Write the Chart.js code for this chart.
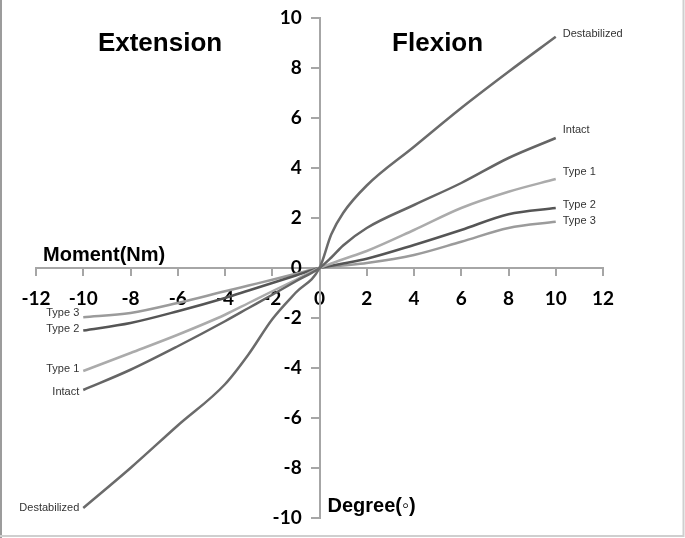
<!DOCTYPE html>
<html>
<head>
<meta charset="utf-8">
<script src="https://cdn.jsdelivr.net/npm/chart.js@4/dist/chart.umd.min.js"></script>
<style>
  html, body { margin: 0; padding: 0; background: #fff; }
  canvas { display: block; }
</style>
</head>
<body>
<canvas id="momentChart" width="685" height="538"></canvas>
<script>
// 각도 (deg)
const degrees = [-10, -8, -6, -4, -3, -2, -1, 0, 0.5, 1, 2, 4, 6, 8, 10];

// 모멘트 (Nm)
const destabilized = [-9.6, -8.0, -6.3, -4.65, -3.45, -2.05, -0.98, 0, 1.35, 2.2, 3.3, 4.85, 6.4, 7.85, 9.25];
const intact       = [-4.88, -4.07, -3.13, -2.13, -1.6, -1.07, -0.53, 0, 0.42, 0.9, 1.6, 2.52, 3.4, 4.4, 5.2];
const type1        = [-4.12, -3.4, -2.67, -1.87, -1.4, -0.93, -0.47, 0, 0.18, 0.35, 0.68, 1.52, 2.4, 3.05, 3.56];
const type2        = [-2.5, -2.2, -1.73, -1.2, -0.9, -0.6, -0.3, 0, 0.09, 0.18, 0.37, 0.92, 1.52, 2.15, 2.4];
const type3        = [-1.97, -1.8, -1.4, -0.93, -0.7, -0.47, -0.23, 0, 0.05, 0.1, 0.2, 0.52, 1.05, 1.6, 1.85];

const seriesNames  = ['Destabilized', 'Intact', 'Type 1', 'Type 2', 'Type 3'];
const seriesValues = [destabilized, intact, type1, type2, type3];
const seriesColors = ['#6b6b6b', '#656565', '#ababab', '#555555', '#9b9b9b'];

// 라벨 오프셋 [왼쪽 dy, 오른쪽 dy]
const labelOffsets = [[0, -3], [2, -8], [-2, -7], [-2, -3], [-4, -1]];

const xTicks = [-12, -10, -8, -6, -4, -2, 0, 2, 4, 6, 8, 10, 12];
const yTicks = [-10, -8, -6, -4, -2, 0, 2, 4, 6, 8, 10];

const AXIS_COLOR = '#a6a6a6';
const TICK_FONT = { family: 'Lato, "Open Sans", sans-serif', size: 19, weight: 'bold' };

/**
 * 곡선 끝 라벨 + 제목 그리기
 */
const annotatePlugin = {
    id: 'annotate',
    afterDatasetsDraw(chart) {
        const ctx = chart.ctx;
        const xs = chart.scales.x;
        const ys = chart.scales.y;
        ctx.save();

        // 시리즈 라벨
        ctx.font = '11px "Liberation Sans", Arial, sans-serif';
        ctx.fillStyle = '#333';
        ctx.textBaseline = 'middle';
        seriesNames.forEach((name, i) => {
            const vals = seriesValues[i];
            ctx.textAlign = 'right';
            ctx.fillText(name, xs.getPixelForValue(degrees[0]) - 4, ys.getPixelForValue(vals[0]) + labelOffsets[i][0]);
            ctx.textAlign = 'left';
            ctx.fillText(name, xs.getPixelForValue(degrees[degrees.length - 1]) + 7, ys.getPixelForValue(vals[vals.length - 1]) + labelOffsets[i][1]);
        });

        // 제목
        ctx.fillStyle = '#000';
        ctx.font = 'bold 26px "Liberation Sans", Arial, sans-serif';
        ctx.textAlign = 'center';
        ctx.fillText('Extension', xs.getPixelForValue(-6.75), ys.getPixelForValue(8.95));
        ctx.fillText('Flexion', xs.getPixelForValue(5.0), ys.getPixelForValue(8.95));

        ctx.font = 'bold 20px "Liberation Sans", Arial, sans-serif';
        ctx.textAlign = 'left';
        ctx.fillText('Moment(Nm)', 43, ys.getPixelForValue(0.5));
        ctx.fillText('Degree(◦)', xs.getPixelForValue(0) + 8, ys.getPixelForValue(-9.55));

        // 테두리 (왼쪽, 오른쪽, 아래)
        ctx.lineWidth = 2;
        ctx.strokeStyle = '#9c9c9c';
        ctx.beginPath();
        ctx.moveTo(1, 0);
        ctx.lineTo(1, chart.height);
        ctx.stroke();
        ctx.strokeStyle = '#cfcfcf';
        ctx.beginPath();
        ctx.moveTo(0, chart.height - 2);
        ctx.lineTo(chart.width - 1.5, chart.height - 2);
        ctx.lineTo(chart.width - 1.5, 0);
        ctx.stroke();
        ctx.restore();
    }
};

const ctx = document.getElementById('momentChart').getContext('2d');

new Chart(ctx, {
    type: 'scatter',
    data: {
        datasets: seriesNames.map((name, i) => ({
            label: name,
            data: degrees.map((d, j) => ({ x: d, y: seriesValues[i][j] })),
            showLine: true,
            borderColor: seriesColors[i],
            borderWidth: 2.5,
            pointRadius: 0,
            cubicInterpolationMode: 'monotone',
            fill: false
        }))
    },
    options: {
        responsive: false,
        animation: false,
        layout: { padding: { left: 36, right: 82, top: 18, bottom: 20 } },
        plugins: {
            legend: { display: false },
            tooltip: { enabled: false }
        },
        scales: {
            x: {
                type: 'linear',
                position: { y: 0 },
                min: -12,
                max: 12,
                afterBuildTicks: (scale) => { scale.ticks = xTicks.map(v => ({ value: v })); },
                ticks: { color: '#000', padding: 12, font: TICK_FONT },
                grid: { drawOnChartArea: false, color: AXIS_COLOR, tickLength: 7, lineWidth: 2 },
                border: { color: AXIS_COLOR, width: 2 }
            },
            y: {
                type: 'linear',
                position: { x: 0 },
                min: -10,
                max: 10,
                afterBuildTicks: (scale) => { scale.ticks = yTicks.map(v => ({ value: v })); },
                ticks: {
                    color: '#000',
                    padding: 0,
                    font: TICK_FONT,
                    // 가운데 축은 padding이 무시되므로 공백으로 축과 간격을 둔다
                    callback: (v) => v + '\u2003\u2009\u200A'
                },
                grid: { drawOnChartArea: false, color: AXIS_COLOR, tickLength: 8, lineWidth: 2 },
                border: { color: AXIS_COLOR, width: 2 }
            }
        }
    },
    plugins: [annotatePlugin]
});
</script>
</body>
</html>
